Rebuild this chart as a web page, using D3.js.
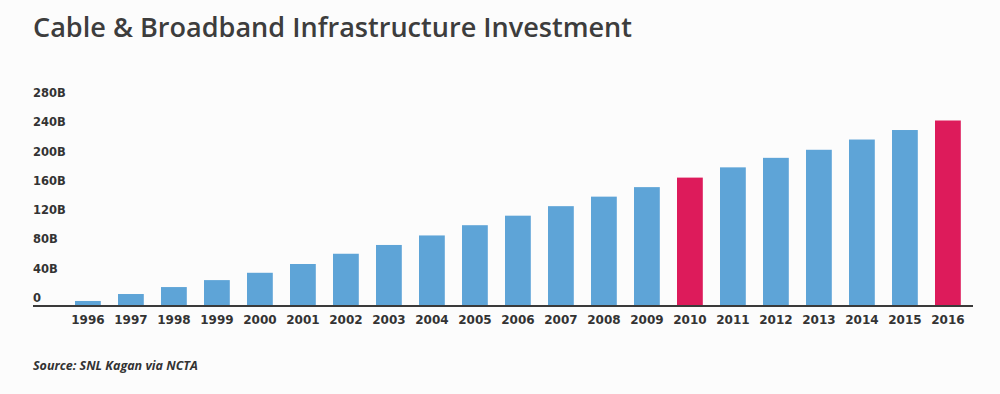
<!DOCTYPE html>
<meta charset="utf-8">
<head>
    <style>
     body { margin: 0; background: #fcfcfc; }
     svg { display: block; }
     .title { font-family: "Open Sans", sans-serif; font-weight: 600; font-size: 27px; fill: #3d3d3d; }
     .ylab { font-family: "DejaVu Sans", sans-serif; font-weight: bold; font-size: 11.5px; fill: #333; }
     .xlab { font-family: "DejaVu Sans", sans-serif; font-weight: bold; font-size: 12px; fill: #333; }
     .source { font-family: "Open Sans", sans-serif; font-style: italic; font-weight: bold; font-size: 12.5px; fill: #333; }
    </style>
</head>
<body></body>
<script src="https://d3js.org/d3.v7.min.js"></script>
<script>
 // cumulative investment, billions of dollars
 const years = ["1996", "1997", "1998", "1999", "2000", "2001", "2002", "2003", "2004", "2005", "2006",
                "2007", "2008", "2009", "2010", "2011", "2012", "2013", "2014", "2015", "2016"];
 const investment = [5.5, 15, 24.5, 34, 44, 56, 70, 82, 95, 109, 122,
                     135, 148, 161, 174, 188, 201, 212, 226, 239, 252];
 const highlighted = ["2010", "2016"];
 const yTicks = [0, 40, 80, 120, 160, 200, 240, 280];

 const width = 1000, height = 394;

 const svg = d3.select("body").append("svg")
               .attr("width", width)
               .attr("height", height);

 svg.append("text")
    .attr("class", "title")
    .attr("x", 33)
    .attr("y", 37)
    .attr("textLength", 599)
    .attr("lengthAdjust", "spacingAndGlyphs")
    .text("Cable & Broadband Infrastructure Investment");

 const x = d3.scaleBand()
             .domain(years)
             .range([66.4, 969.4])
             .paddingInner(0.4)
             .paddingOuter(0.2);

 const y = d3.scaleLinear()
             .domain([0, 280])
             .range([305, 100]);

 // y labels sit just above their value
 svg.append("g")
    .selectAll("text")
    .data(yTicks)
    .join("text")
    .attr("class", "ylab")
    .attr("x", 33)
    .attr("y", d => y(d) - 3)
    .text(d => d === 0 ? "0" : d + "B");

 svg.append("g")
    .selectAll("rect")
    .data(years)
    .join("rect")
    .attr("x", d => x(d))
    .attr("width", x.bandwidth())
    .attr("y", (d, i) => y(investment[i]))
    .attr("height", (d, i) => y(0) - y(investment[i]))
    .attr("fill", d => highlighted.includes(d) ? "#dd1b5b" : "#5ea4d7");

 // baseline
 svg.append("line")
    .attr("x1", 33)
    .attr("x2", 973)
    .attr("y1", y(0) + 1)
    .attr("y2", y(0) + 1)
    .attr("stroke", "#3a3a3a")
    .attr("stroke-width", 2);

 svg.append("g")
    .selectAll("text")
    .data(years)
    .join("text")
    .attr("class", "xlab")
    .attr("x", d => x(d) + x.bandwidth() / 2)
    .attr("y", 324)
    .attr("text-anchor", "middle")
    .text(d => d);

 svg.append("text")
    .attr("class", "source")
    .attr("x", 33)
    .attr("y", 370)
    .text("Source: SNL Kagan via NCTA");
</script>
